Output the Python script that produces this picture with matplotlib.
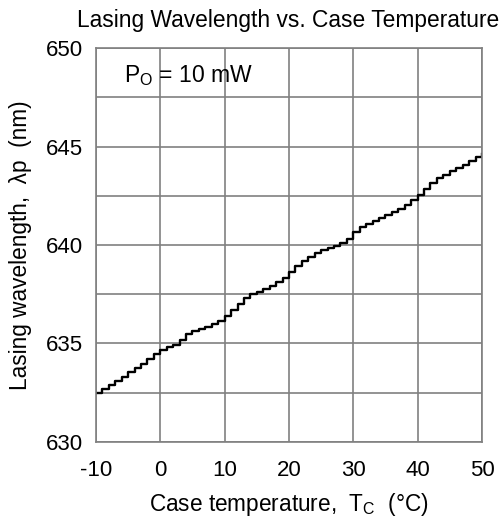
import numpy as np
import matplotlib
matplotlib.use("Agg")
import matplotlib.pyplot as plt

plt.rcParams['font.family'] = ['Liberation Sans', 'DejaVu Sans']
plt.rcParams['axes.unicode_minus'] = False

# 케이스 온도 (°C)
temp = np.arange(-10, 51)
# 발진 파장 (nm), 그림에서 읽은 값
wavelength = [632.5, 632.7, 632.9, 633.1, 633.3, 633.55, 633.75, 633.95, 634.2, 634.45,
              634.65, 634.8, 634.9, 635.2, 635.5, 635.65, 635.75, 635.85, 636.0, 636.15,
              636.4, 636.7, 637.0, 637.3, 637.5, 637.6, 637.75, 637.9, 638.1, 638.3,
              638.65, 638.95, 639.2, 639.4, 639.6, 639.75, 639.85, 639.95, 640.1, 640.3,
              640.65, 640.9, 641.05, 641.2, 641.35, 641.5, 641.7, 641.85, 642.05, 642.3,
              642.55, 642.85, 643.15, 643.4, 643.55, 643.75, 643.9, 644.05, 644.25, 644.45,
              644.6]

x_ticks = [-10, 0, 10, 20, 30, 40, 50]
y_ticks = [630, 635, 640, 645, 650]

fig = plt.figure(figsize=(5.01, 5.19), dpi=100)
ax = fig.add_axes([0.1916, 0.1484, 0.7704, 0.7591])

ax.step(temp, wavelength, where='post', color='black', lw=1.7)

ax.set_xlim(-10, 50)
ax.set_ylim(630, 650)
ax.set_xticks(x_ticks)
ax.set_yticks(y_ticks)
ax.set_yticks(np.arange(630, 650, 2.5), minor=True)
ax.grid(True, which='both', color='#808080', lw=1.2)
ax.set_axisbelow(True)
ax.tick_params(which='both', length=0, labelsize=16)
ax.tick_params(axis='x', pad=13)
ax.tick_params(axis='y', pad=9)
for s in ax.spines.values():
    s.set_color('#808080')
    s.set_linewidth(1.2)

ax.text(0.073, 0.931, r'P$_\mathregular{O}$ = 10 mW', transform=ax.transAxes,
        fontsize=16.5, va='center', ha='left')

fig.text(0.576, 0.96, 'Lasing Wavelength vs. Case Temperature',
         ha='center', va='center', fontsize=16.4)
ax.set_xlabel(r'Case temperature,  T$_\mathregular{C}$  (°C)', fontsize=16.3, labelpad=7)
ax.set_ylabel('Lasing wavelength,  λp  (nm)', fontsize=16.3, labelpad=10)

plt.savefig('out.png', dpi=100)
